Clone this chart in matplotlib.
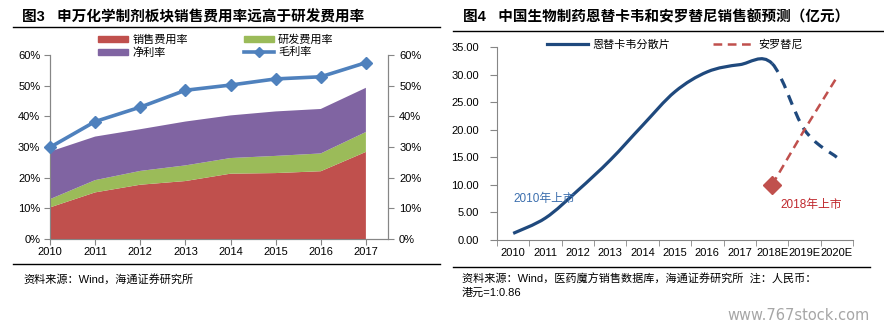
import numpy as np
import matplotlib
matplotlib.use('Agg')
import matplotlib.pyplot as plt
from matplotlib.path import Path
from matplotlib.patches import PathPatch, Patch
from matplotlib.lines import Line2D

plt.rcParams['font.family'] = ['Liberation Sans', 'Noto Sans CJK SC']
plt.rcParams['axes.unicode_minus'] = False

# ---- left chart data (%)
years = ['2010', '2011', '2012', '2013', '2014', '2015', '2016', '2017']
sales_rate = [10.3, 15.2, 17.7, 18.9, 21.3, 21.5, 22.1, 28.4]
rd_rate = [2.7, 4.0, 4.5, 5.1, 5.1, 5.6, 5.8, 6.5]
net_rate = [15.5, 14.2, 13.6, 14.3, 13.9, 14.5, 14.5, 14.4]
gross_rate = [29.9, 38.3, 43.0, 48.5, 50.2, 52.2, 52.9, 57.5]

# ---- right chart data (亿元)
years2 = ['2010', '2011', '2012', '2013', '2014', '2015', '2016', '2017',
          '2018E', '2019E', '2020E']
entecavir = [1.2, 4.0, 9.0, 14.5, 20.8, 26.9, 30.5, 31.8, 32.0, 20.0, 15.0]
anlotinib_years = ['2018E', '2019E', '2020E']
anlotinib = [10.0, 20.0, 29.5]

W, H = 884, 329
fig = plt.figure(figsize=(W / 100, H / 100), dpi=100)

def fx(px):
    return px / W

def fy(py):
    return 1 - py / H

def hline(x0, x1, y, lw=1.0):
    fig.add_artist(Line2D([fx(x0), fx(x1)], [fy(y), fy(y)],
                          transform=fig.transFigure, color='black', lw=lw))

spine_col = '#868686'
fs = 8

# ================= left panel =================
fig.text(fx(22), fy(17), '图3   申万化学制剂板块销售费用率远高于研发费用率',
         fontsize=10.5, fontweight='bold', va='center', ha='left')
hline(13, 440, 27)
hline(13, 440, 264)
fig.text(fx(23), fy(279), '资料来源：Wind，海通证券研究所', fontsize=8,
         va='center', ha='left')

ax1 = fig.add_axes([fx(50), fy(239), fx(388 - 50), (239 - 55) / H])
x = np.arange(len(years))
ax1.stackplot(x, sales_rate, rd_rate, net_rate,
              colors=['#C0504D', '#9BBB59', '#8064A2'], lw=0)
ax1.plot(x, gross_rate, color='#4F81BD', lw=2.6, marker='D', ms=6.5,
         markeredgecolor='#4F81BD', clip_on=False, zorder=5)
ax1.set_xlim(0, 7.49)
ax1.set_ylim(0, 60)
ax1.set_xticks(x)
ax1.set_xticklabels(years, fontsize=fs)
yt = [0, 10, 20, 30, 40, 50, 60]
ax1.set_yticks(yt)
ax1.set_yticklabels([f'{v}%' for v in yt], fontsize=fs)
ax1.tick_params(axis='y', length=4, pad=3, color=spine_col)
ax1.tick_params(axis='x', length=4, pad=2, color=spine_col)
ax1.spines['top'].set_visible(False)
for s in ['left', 'bottom', 'right']:
    ax1.spines[s].set_color(spine_col)

ax1r = ax1.twinx()
ax1r.set_ylim(0, 60)
ax1r.set_yticks(yt)
ax1r.set_yticklabels([f'{v}%' for v in yt], fontsize=fs)
ax1r.tick_params(axis='y', length=4, pad=4, color=spine_col)
ax1r.spines['top'].set_visible(False)
for s in ['left', 'bottom', 'right']:
    ax1r.spines[s].set_color(spine_col)
ax1.set_zorder(ax1r.get_zorder() + 1)
ax1.patch.set_visible(False)

h1 = [Patch(color='#C0504D'), Patch(color='#8064A2'),
      Patch(color='#9BBB59'),
      Line2D([], [], color='#4F81BD', lw=2.6, marker='D', ms=5)]
l1 = ['销售费用率', '净利率', '研发费用率', '毛利率']
fig.legend(h1, l1, ncol=2, loc='upper left', bbox_to_anchor=(fx(98), fy(34)),
           frameon=False, fontsize=fs, borderpad=0, borderaxespad=0,
           handlelength=2.7, handleheight=0.45, handletextpad=0.4,
           labelspacing=0.2, columnspacing=5.0)

# ================= right panel =================
fig.text(fx(463), fy(17), '图4   中国生物制药恩替卡韦和安罗替尼销售额预测（亿元）',
         fontsize=10.5, fontweight='bold', va='center', ha='left')
hline(453, 884, 31)
hline(453, 870, 267)
fig.text(fx(462), fy(286),
         '资料来源：Wind，医药魔方销售数据库，海通证券研究所  注：人民币：\n港元=1:0.86',
         fontsize=8, va='center', ha='left', linespacing=1.3)
fig.text(fx(870), fy(316), 'www.767stock.com', fontsize=10.5,
         color='#A6A6A6', ha='right', va='center', family='DejaVu Sans')

ax2 = fig.add_axes([fx(497), fy(240), fx(853 - 497), (240 - 47) / H])
x2 = np.arange(len(years2))


def bezier_segments(xs, ys):
    pts = np.column_stack([xs, ys]).astype(float)
    n = len(pts)
    segs = []
    for i in range(n - 1):
        p0 = pts[max(i - 1, 0)]
        p1 = pts[i]
        p2 = pts[i + 1]
        p3 = pts[min(i + 2, n - 1)]
        segs.append((p1, p1 + (p2 - p0) / 6, p2 - (p3 - p1) / 6, p2))
    return segs


def seg_path(segs):
    verts = [segs[0][0]]
    codes = [Path.MOVETO]
    for s in segs:
        verts += [s[1], s[2], s[3]]
        codes += [Path.CURVE4] * 3
    return Path(verts, codes)


segs = bezier_segments(x2, entecavir)
blue = '#1F497D'
ax2.add_patch(PathPatch(seg_path(segs[:8]), fill=False, edgecolor=blue,
                        lw=2.3, capstyle='butt'))
ax2.add_patch(PathPatch(seg_path(segs[8:]), fill=False, edgecolor=blue,
                        lw=2.3, linestyle=(0, (3.2, 2.4)), capstyle='butt'))

xa = [years2.index(y) for y in anlotinib_years]
red = '#C0504D'
ax2.plot(xa, anlotinib, color=red, lw=1.8, linestyle=(0, (3.5, 2.2)))
ax2.plot(xa[:1], anlotinib[:1], color=red, marker='D', ms=9, lw=0)

ax2.text(0, 7.4, '2010年上市', color='#3C6FAE', fontsize=8.5, ha='left',
         va='center')
ax2.text(8.25, 6.3, '2018年上市', color='#C0282D', fontsize=8.5, ha='left',
         va='center')

ax2.set_xlim(-0.5, 10.5)
ax2.set_ylim(0, 35)
ax2.set_xticks(x2)
ax2.set_xticklabels(years2, fontsize=fs)
ax2.set_xticks(np.arange(-0.5, 10.6, 1), minor=True)
ax2.tick_params(axis='x', which='major', length=0, pad=6)
ax2.tick_params(axis='x', which='minor', length=4, color=spine_col)
yt2 = np.arange(0, 36, 5)
ax2.set_yticks(yt2)
ax2.set_yticklabels([f'{v:.2f}' for v in yt2], fontsize=fs)
ax2.tick_params(axis='y', length=5, pad=8, color=spine_col)
for s in ['top', 'right']:
    ax2.spines[s].set_visible(False)
for s in ['left', 'bottom']:
    ax2.spines[s].set_color(spine_col)

h2 = [Line2D([], [], color=blue, lw=2.3),
      Line2D([], [], color=red, lw=1.8, linestyle=(0, (3.5, 2.2)))]
l2 = ['恩替卡韦分散片', '安罗替尼']
fig.legend(h2, l2, ncol=2, loc='upper left', bbox_to_anchor=(fx(547), fy(39)),
           frameon=False, fontsize=fs, borderpad=0, borderaxespad=0,
           handlelength=3.7, handletextpad=0.4, columnspacing=3.8)

fig.savefig('out.png', dpi=100)
